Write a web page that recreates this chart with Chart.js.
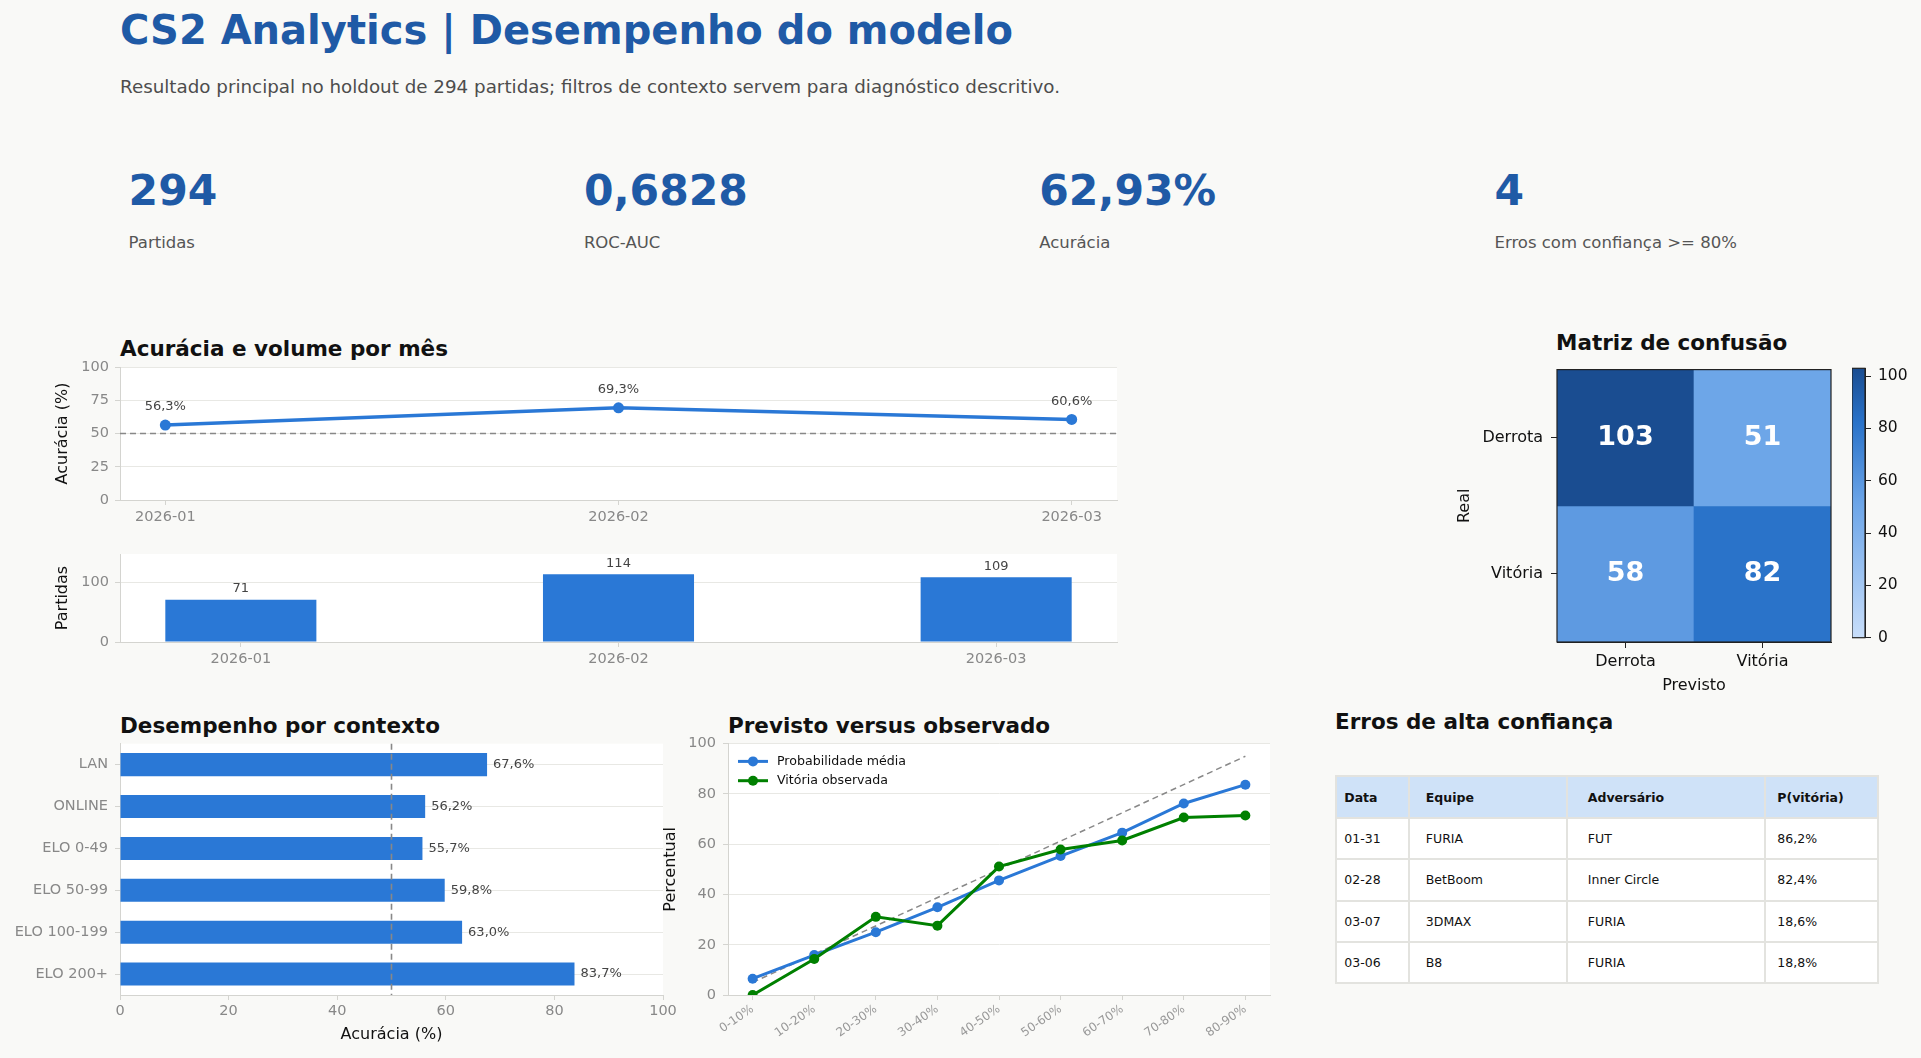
<!DOCTYPE html>
<html lang="pt-BR">
<head>
<meta charset="utf-8">
<title>CS2 Analytics | Desempenho do modelo</title>
<script src="https://cdn.jsdelivr.net/npm/chart.js@4.4.1/dist/chart.umd.min.js"></script>
<style>
  html, body { margin: 0; padding: 0; }
  body { width: 1921px; height: 1058px; background: #f9f9f7; position: relative; overflow: hidden; font-family: 'DejaVu Sans', sans-serif; }
  .t { position: absolute; white-space: nowrap; line-height: 1; }
  .main { left: 120px; top: 9.5px; font-size: 40px; font-weight: bold; color: #1f5aa6; }
  .sub { left: 120px; top: 78px; font-size: 18.3px; color: #4d4d4d; }
  .kv { top: 170px; font-size: 42.5px; font-weight: bold; color: #1f5aa6; }
  .kl { top: 234.5px; font-size: 16.5px; color: #555; }
  .h { font-size: 21.5px; font-weight: bold; color: #111; }
  canvas { position: absolute; }
  table { position: absolute; left: 1335px; top: 775px; width: 542px; border-collapse: collapse; table-layout: fixed; font-size: 12.5px; color: #111; }
  th, td { border: 2px solid #e3e3df; text-align: left; padding: 0; white-space: nowrap; }
  th { background: #cfe2f8; font-weight: bold; height: 40px; }
  td { background: #fff; height: 39.3px; }
</style>
</head>
<body>
<div class="t main">CS2 Analytics | Desempenho do modelo</div>
<div class="t sub">Resultado principal no holdout de 294 partidas; filtros de contexto servem para diagnóstico descritivo.</div>
<div id="kpis"></div>

<div class="t h" style="left:120px; top:338.2px">Acurácia e volume por mês</div>
<div class="t h" style="left:1556px; top:331.8px">Matriz de confusão</div>
<div class="t h" style="left:120px; top:714.8px">Desempenho por contexto</div>
<div class="t h" style="left:728px; top:714.8px">Previsto versus observado</div>
<div class="t h" style="left:1335px; top:711.1px">Erros de alta confiança</div>

<canvas id="cMonthAcc" width="1090" height="178" style="left:40px; top:352px"></canvas>
<canvas id="cMonthVol" width="1090" height="141" style="left:40px; top:539px"></canvas>
<canvas id="cContext" width="680" height="327" style="left:0px; top:728px"></canvas>
<canvas id="cCalib" width="635" height="327" style="left:650px; top:728px"></canvas>
<canvas id="cMatrix" width="420" height="348" style="left:1430px; top:352px"></canvas>
<canvas id="cBar" width="69" height="302" style="left:1852px; top:352px"></canvas>

<table id="errTable"></table>

<script>
const months = ['2026-01', '2026-02', '2026-03'];
const monthAccuracy = [56.3, 69.3, 60.6];
const monthMatches = [71, 114, 109];

const contextLabels = ['LAN', 'ONLINE', 'ELO 0-49', 'ELO 50-99', 'ELO 100-199', 'ELO 200+'];
const contextAccuracy = [67.6, 56.2, 55.7, 59.8, 63.0, 83.7];

const probBins = ['0-10%', '10-20%', '20-30%', '30-40%', '40-50%', '50-60%', '60-70%', '70-80%', '80-90%'];
const predMean = [6.5, 15.9, 25.0, 34.9, 45.6, 55.3, 64.6, 76.2, 83.7];
const observedWin = [0.0, 14.3, 31.1, 27.6, 51.1, 57.9, 61.5, 70.6, 71.4];
const diagX = [0, 8];
const diagY = [5, 95];

const cmLabels = ['Derrota', 'Vitória'];
const cmCounts = [[103, 51], [58, 82]];

const kpiValues = ['294', '0,6828', '62,93%', '4'];
const kpiLabels = ['Partidas', 'ROC-AUC', 'Acurácia', 'Erros com confiança >= 80%'];

const errHeader = ['Data', 'Equipe', 'Adversário', 'P(vitória)'];
const errDates = ['01-31', '02-28', '03-07', '03-06'];
const errTeams = ['FURIA', 'BetBoom', '3DMAX', 'B8'];
const errOpponents = ['FUT', 'Inner Circle', 'FURIA', 'FURIA'];
const errProb = [86.2, 82.4, 18.6, 18.8];

const chanceLevel = 50;

// estilo
const BLUE = '#2a78d6';
const GREEN = '#008000';
const GRID = '#e8e8e4';
const SPINE = '#d4d4d0';
const TICK = '#888';
const tickFont = { size: 14.5 };
const axisTitleFont = { size: 16 };

const pct = v => v.toFixed(1).replace('.', ',') + '%';
const fix = size => scale => { if (scale.isHorizontal()) scale.height = size; else scale.width = size; };

Chart.defaults.font.family = "'DejaVu Sans', sans-serif";
Chart.defaults.animation = false;
Chart.defaults.responsive = false;
Chart.defaults.plugins.legend.display = false;
Chart.defaults.plugins.tooltip.enabled = false;

// KPIs
const kpiBox = document.getElementById('kpis');
kpiValues.forEach((v, i) => {
  const left = 128.6 + i * 455.3;
  kpiBox.insertAdjacentHTML('beforeend',
    `<div class="t kv" style="left:${left}px">${v}</div><div class="t kl" style="left:${left}px">${kpiLabels[i]}</div>`);
});

// tabela
const colW = [73, 158, 198, 113];
let html = '<colgroup>' + colW.map(w => `<col style="width:${w}px">`).join('') + '</colgroup>';
html += '<tr>' + errHeader.map((h, c) => `<th style="padding-left:${colW[c] * 0.1}px">${h}</th>`).join('') + '</tr>';
errDates.forEach((d, r) => {
  const cells = [d, errTeams[r], errOpponents[r], pct(errProb[r])];
  html += '<tr>' + cells.map((v, c) => `<td style="padding-left:${colW[c] * 0.1}px">${v}</td>`).join('') + '</tr>';
});
document.getElementById('errTable').innerHTML = html;

// plugins
const plotBg = {
  id: 'plotBg',
  beforeDraw(chart) {
    const { ctx, chartArea: a } = chart;
    ctx.save();
    ctx.fillStyle = '#fff';
    ctx.fillRect(a.left, a.top, a.width, a.height);
    ctx.restore();
  }
};

const refLine = {
  id: 'refLine',
  afterDatasetsDraw(chart, args, o) {
    const { ctx, chartArea: a } = chart;
    const p = chart.scales[o.axis].getPixelForValue(o.value);
    ctx.save();
    ctx.strokeStyle = '#888';
    ctx.lineWidth = 1.6;
    ctx.setLineDash([6, 4]);
    ctx.beginPath();
    if (o.axis === 'y') { ctx.moveTo(a.left, p); ctx.lineTo(a.right, p); }
    else { ctx.moveTo(p, a.top); ctx.lineTo(p, a.bottom); }
    ctx.stroke();
    ctx.restore();
  }
};

const valueLabels = {
  id: 'valueLabels',
  afterDatasetsDraw(chart, args, o) {
    const { ctx } = chart;
    ctx.save();
    ctx.font = o.font;
    ctx.fillStyle = o.color;
    ctx.textAlign = o.align || 'center';
    ctx.textBaseline = 'middle';
    chart.data.datasets.forEach((ds, di) => {
      if (!ds.valueText) return;
      chart.getDatasetMeta(di).data.forEach((el, i) => {
        const y = o.center ? (el.y + el.base) / 2 : el.y + (o.dy || 0);
        ctx.fillText(ds.valueText[i], el.x + (o.dx || 0), y);
      });
    });
    ctx.restore();
  }
};

const frame = {
  id: 'frame',
  afterDraw(chart) {
    const { ctx, chartArea: a } = chart;
    ctx.save();
    ctx.strokeStyle = '#222';
    ctx.lineWidth = 1.2;
    ctx.strokeRect(a.left, a.top, a.width, a.height);
    ctx.restore();
  }
};

const lineLegend = {
  id: 'lineLegend',
  afterDraw(chart, args, o) {
    const { ctx, chartArea: a } = chart;
    ctx.save();
    ctx.font = o.font;
    ctx.textBaseline = 'middle';
    ctx.textAlign = 'left';
    let row = 0;
    chart.data.datasets.forEach(ds => {
      if (!ds.label) return;
      const x = a.left + o.x, y = a.top + o.y + row * o.gap;
      ctx.strokeStyle = ds.borderColor;
      ctx.lineWidth = ds.borderWidth;
      ctx.beginPath(); ctx.moveTo(x, y); ctx.lineTo(x + 30, y); ctx.stroke();
      ctx.fillStyle = ds.borderColor;
      ctx.beginPath(); ctx.arc(x + 15, y, ds.pointRadius, 0, Math.PI * 2); ctx.fill();
      ctx.fillStyle = '#111';
      ctx.fillText(ds.label, x + 39, y);
      row++;
    });
    ctx.restore();
  }
};

// acurácia por mês
new Chart(document.getElementById('cMonthAcc'), {
  type: 'line',
  data: {
    datasets: [{
      data: monthAccuracy.map((v, i) => ({ x: i, y: v })),
      valueText: monthAccuracy.map(pct),
      borderColor: BLUE, backgroundColor: BLUE, borderWidth: 3.5,
      pointRadius: 5.5, pointBorderWidth: 0, pointBackgroundColor: BLUE
    }]
  },
  options: {
    layout: { padding: { top: 15, right: 13, left: 0, bottom: 0 } },
    scales: {
      x: {
        type: 'linear', min: -0.1, max: 2.1,
        afterBuildTicks: s => { s.ticks = months.map((m, i) => ({ value: i })); },
        afterFit: fix(30),
        ticks: { callback: v => months[v], color: TICK, font: tickFont, padding: 4 },
        grid: { offset: false, drawOnChartArea: false, tickLength: 5, tickColor: SPINE },
        border: { color: SPINE }
      },
      y: {
        min: 0, max: 100,
        afterFit: fix(80),
        ticks: { stepSize: 25, color: TICK, font: tickFont, padding: 6 },
        grid: { color: GRID, tickLength: 5, tickColor: SPINE },
        border: { color: SPINE },
        title: { display: true, text: 'Acurácia (%)', color: '#111', font: axisTitleFont, padding: { top: 13.4, bottom: 0 } }
      }
    },
    plugins: {
      refLine: { axis: 'y', value: chanceLevel },
      valueLabels: { dy: -18, font: "13px 'DejaVu Sans'", color: '#444' }
    }
  },
  plugins: [plotBg, refLine, valueLabels]
});

// volume por mês
new Chart(document.getElementById('cMonthVol'), {
  type: 'bar',
  data: {
    datasets: [{
      data: monthMatches.map((v, i) => ({ x: i, y: v })),
      valueText: monthMatches.map(String),
      backgroundColor: BLUE, barPercentage: 0.4, categoryPercentage: 1
    }]
  },
  options: {
    layout: { padding: { top: 15, right: 13, left: 0, bottom: 0 } },
    scales: {
      x: {
        type: 'linear', offset: false, min: -0.32, max: 2.32,
        afterBuildTicks: s => { s.ticks = months.map((m, i) => ({ value: i })); },
        afterFit: fix(38),
        ticks: { callback: v => months[v], color: TICK, font: tickFont, padding: 4 },
        grid: { offset: false, drawOnChartArea: false, tickLength: 5, tickColor: SPINE },
        border: { color: SPINE }
      },
      y: {
        min: 0, max: 148,
        afterFit: fix(80),
        ticks: { stepSize: 100, includeBounds: false, color: TICK, font: tickFont, padding: 6 },
        grid: { color: GRID, tickLength: 5, tickColor: SPINE },
        border: { color: SPINE },
        title: { display: true, text: 'Partidas', color: '#111', font: axisTitleFont, padding: { top: 13.4, bottom: 0 } }
      }
    },
    plugins: {
      valueLabels: { dy: -11, font: "13px 'DejaVu Sans'", color: '#444' }
    }
  },
  plugins: [plotBg, valueLabels]
});

// desempenho por contexto
new Chart(document.getElementById('cContext'), {
  type: 'bar',
  data: {
    labels: contextLabels,
    datasets: [{
      data: contextAccuracy,
      valueText: contextAccuracy.map(pct),
      backgroundColor: BLUE, barPercentage: 0.55, categoryPercentage: 1
    }]
  },
  options: {
    indexAxis: 'y',
    layout: { padding: { top: 15, right: 17, left: 0, bottom: 0 } },
    scales: {
      y: {
        offset: true,
        afterFit: fix(120),
        ticks: { color: TICK, font: tickFont, padding: 7 },
        grid: { offset: false, color: GRID, tickLength: 5, tickColor: SPINE },
        border: { color: SPINE }
      },
      x: {
        min: 0, max: 100,
        afterFit: fix(60),
        ticks: { stepSize: 20, color: TICK, font: tickFont, padding: 3 },
        grid: { drawOnChartArea: false, tickLength: 5, tickColor: SPINE },
        border: { color: SPINE },
        title: { display: true, text: 'Acurácia (%)', color: '#111', font: axisTitleFont, padding: { top: 0, bottom: 10.4 } }
      }
    },
    plugins: {
      refLine: { axis: 'x', value: chanceLevel },
      valueLabels: { dx: 6, align: 'left', font: "13px 'DejaVu Sans'", color: '#444' }
    }
  },
  plugins: [plotBg, refLine, valueLabels]
});

// previsto versus observado
new Chart(document.getElementById('cCalib'), {
  type: 'line',
  data: {
    datasets: [
      {
        label: 'Probabilidade média',
        data: predMean.map((v, i) => ({ x: i, y: v })),
        borderColor: BLUE, backgroundColor: BLUE, borderWidth: 3,
        pointRadius: 5, pointBorderWidth: 0, pointBackgroundColor: BLUE, order: 1
      },
      {
        label: 'Vitória observada',
        data: observedWin.map((v, i) => ({ x: i, y: v })),
        borderColor: GREEN, backgroundColor: GREEN, borderWidth: 3,
        pointRadius: 5, pointBorderWidth: 0, pointBackgroundColor: GREEN, order: 0
      },
      {
        data: diagX.map((x, i) => ({ x: x, y: diagY[i] })),
        borderColor: '#888', borderWidth: 1.5, borderDash: [6, 4], pointRadius: 0, order: 2
      }
    ]
  },
  options: {
    layout: { padding: { top: 15, right: 15, left: 0, bottom: 0 } },
    scales: {
      x: {
        type: 'linear', min: -0.4, max: 8.4,
        afterBuildTicks: s => { s.ticks = probBins.map((b, i) => ({ value: i })); },
        afterFit: fix(60),
        ticks: { callback: v => probBins[v], color: '#999', font: { size: 12 }, padding: 2, minRotation: 35, maxRotation: 35, autoSkip: false },
        grid: { drawOnChartArea: false, tickLength: 5, tickColor: SPINE },
        border: { color: SPINE }
      },
      y: {
        min: 0, max: 100,
        afterFit: fix(78),
        ticks: { stepSize: 20, color: TICK, font: tickFont, padding: 7 },
        grid: { color: GRID, tickLength: 5, tickColor: SPINE },
        border: { color: SPINE },
        title: { display: true, text: 'Percentual', color: '#111', font: axisTitleFont, padding: { top: 11.1, bottom: 0 } }
      }
    },
    plugins: {
      lineLegend: { x: 10, y: 17.7, gap: 19.3, font: "12.6px 'DejaVu Sans'" }
    }
  },
  plugins: [plotBg, lineLegend]
});

// matriz de confusão
const cmMax = Math.max(...cmCounts.flat());
const cmStops = [[0, [200, 222, 250]], [0.5, [108, 165, 232]], [0.8, [41, 114, 201]], [1, [26, 77, 145]]];
const cmColor = v => {
  const t = Math.min(Math.max(v / cmMax, 0), 1);
  for (let k = 1; k < cmStops.length; k++) {
    const [t1, c1] = cmStops[k];
    const [t0, c0] = cmStops[k - 1];
    if (t <= t1) {
      const f = (t - t0) / (t1 - t0);
      return 'rgb(' + c0.map((c, j) => Math.round(c + (c1[j] - c) * f)).join(',') + ')';
    }
  }
};

new Chart(document.getElementById('cMatrix'), {
  type: 'bar',
  data: {
    labels: cmLabels,
    datasets: cmCounts.map((row, r) => ({
      label: cmLabels[r],
      data: row.map(() => [cmLabels.length - 1 - r, cmLabels.length - r]),
      valueText: row.map(String),
      backgroundColor: row.map(cmColor),
      barPercentage: 1, categoryPercentage: 1, grouped: false, borderWidth: 0
    }))
  },
  options: {
    layout: { padding: { top: 15, right: 19, left: 0, bottom: 0 } },
    scales: {
      x: {
        offset: true,
        afterFit: fix(58),
        ticks: { color: '#111', font: { size: 16 }, padding: 4 },
        grid: { offset: false, drawOnChartArea: false, tickLength: 6, tickColor: '#222' },
        border: { color: '#222' },
        title: { display: true, text: 'Previsto', color: '#111', font: axisTitleFont, padding: { top: 0, bottom: 4.7 } }
      },
      y: {
        min: 0, max: cmLabels.length,
        afterBuildTicks: s => { s.ticks = cmLabels.map((l, r) => ({ value: cmLabels.length - 0.5 - r })); },
        afterFit: fix(127),
        ticks: { callback: v => cmLabels[cmLabels.length - 0.5 - v], color: '#111', font: { size: 16 }, padding: 8 },
        grid: { drawOnChartArea: false, tickLength: 6, tickColor: '#222' },
        border: { color: '#222' },
        title: { display: true, text: 'Real', color: '#111', font: axisTitleFont, padding: { top: 25.4, bottom: 0 } }
      }
    },
    plugins: {
      valueLabels: { center: true, font: "bold 27px 'DejaVu Sans'", color: '#fff' }
    }
  },
  plugins: [valueLabels, frame]
});

// barra de cores
new Chart(document.getElementById('cBar'), {
  type: 'bar',
  data: {
    labels: [''],
    datasets: [{
      data: [cmMax],
      barPercentage: 1, categoryPercentage: 1, borderWidth: 0,
      backgroundColor: c => {
        const a = c.chart.chartArea;
        if (!a) return cmColor(cmMax / 2);
        const g = c.chart.ctx.createLinearGradient(0, a.bottom, 0, a.top);
        cmStops.forEach(([t, rgb]) => g.addColorStop(t, 'rgb(' + rgb.join(',') + ')'));
        return g;
      }
    }]
  },
  options: {
    layout: { padding: { top: 15, right: 0, left: 0, bottom: 12 } },
    scales: {
      x: { display: false },
      y: {
        position: 'right', min: 0, max: cmMax,
        afterFit: fix(56),
        ticks: { stepSize: 20, includeBounds: false, color: '#111', font: { size: 15.5 }, padding: 7 },
        grid: { drawOnChartArea: false, tickLength: 6, tickColor: '#222' },
        border: { color: '#222' }
      }
    }
  },
  plugins: [frame]
});
</script>
</body>
</html>
